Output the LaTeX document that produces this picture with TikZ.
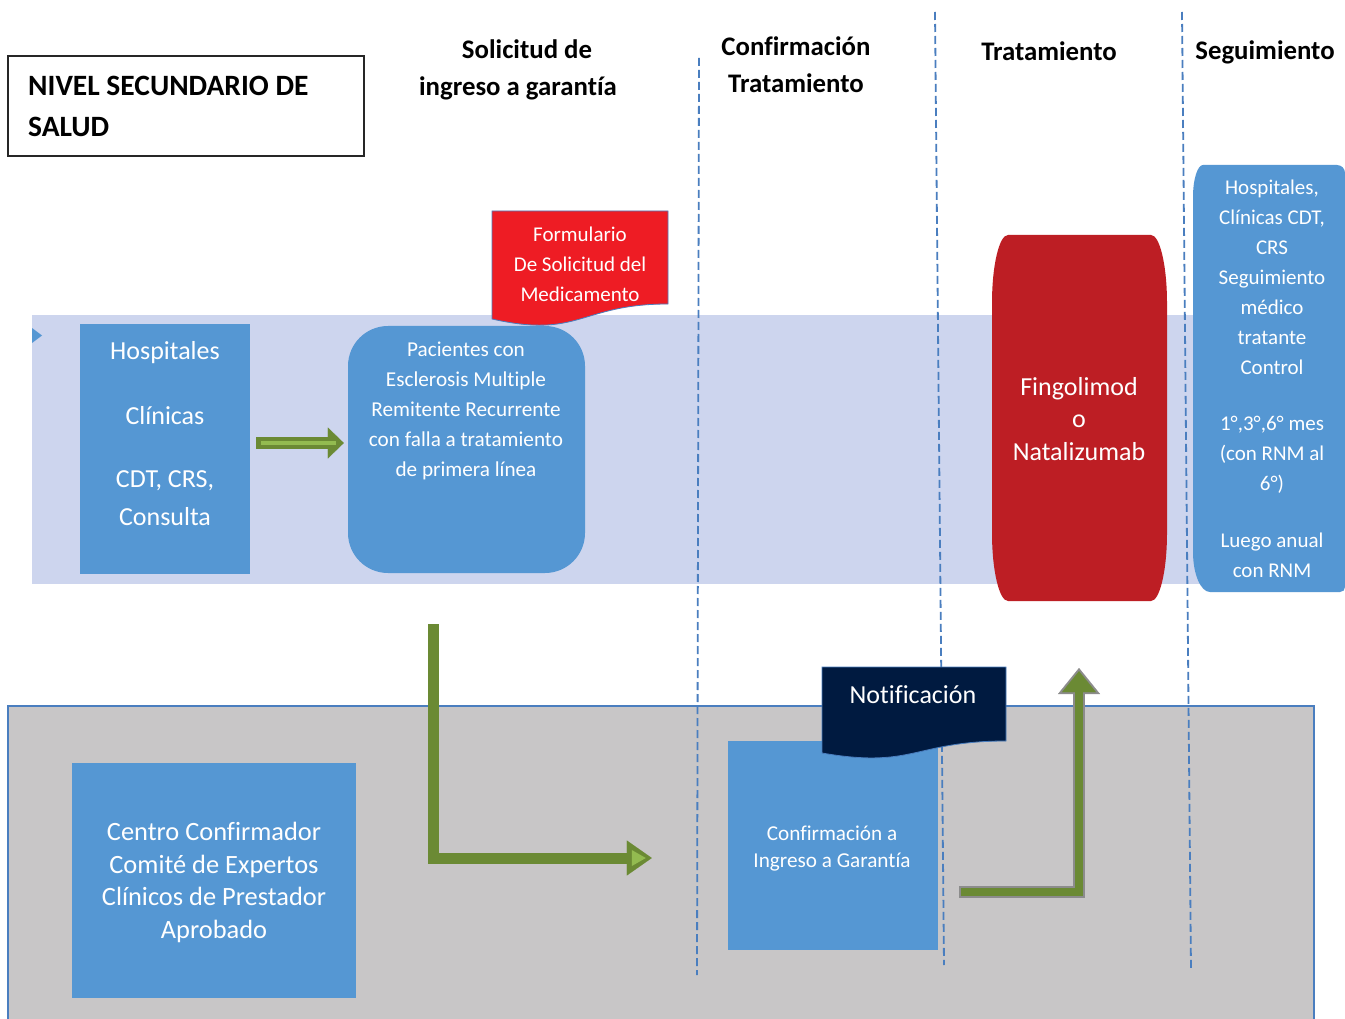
\documentclass[tikz,border=0pt]{standalone}
\usepackage{fontspec}
\setmainfont{Carlito}[Ligatures=NoCommon]
\usetikzlibrary{arrows.meta,calc}
\definecolor{bandblue}{HTML}{CDD5EE}
\definecolor{boxblue}{HTML}{5597D3}
\definecolor{docred}{HTML}{EE1C24}
\definecolor{fingored}{HTML}{BD1E24}
\definecolor{navy}{HTML}{001A40}
\definecolor{greyband}{HTML}{C8C6C7}
\definecolor{borderblue}{HTML}{4A7EBF}
\definecolor{arrowgreen}{HTML}{6B8A34}
\definecolor{lightgreen}{HTML}{93BB50}
\definecolor{arrowgrey}{HTML}{8C8C8C}
\begin{document}
\begin{tikzpicture}[x=1pt,y=-1pt,
  headtxt/.style={font=\bfseries\fontsize{26.8}{37}\selectfont, align=center, inner sep=0pt},
  wtxt/.style={text=white, align=center, inner sep=0pt},
  bluebox/.style={fill=boxblue, draw=none, inner sep=0pt, rectangle},
  dashline/.style={borderblue, line width=1.8pt, dash pattern=on 8pt off 4pt},
  docline/.style={borderblue, line width=0.8pt}]
\useasboundingbox (0,0) rectangle (1345,1019);
\fill[white] (0,0) rectangle (1345,1019);

% backgrounds
\fill[bandblue] (32,315) rectangle (1200,584);
\fill[boxblue] (32,328) -- (42,335.5) -- (32,343) -- cycle;
\draw[borderblue, line width=2pt, fill=greyband] (8,1025) -- (8,706) -- (1314,706) -- (1314,1025);

% dashed column separators
\draw[dashline] (699,58) -- (697,975);
\draw[dashline] (935,12) -- (944,965);
\draw[dashline] (1182,12) -- (1191,970);

% title
\node[draw=black!85, line width=1.3pt, minimum width=356pt, minimum height=100pt, inner sep=0pt] (title) at (186,106) {};
\node[anchor=west, align=left, font=\bfseries\fontsize{29.5}{41}\selectfont, inner sep=0pt] (titleT) at (28,106) {NIVEL SECUNDARIO DE\\SALUD};

% headings
\node[headtxt] (h1) at (518,70) {\hspace*{18pt}Solicitud de\\ingreso a garantía};
\node[headtxt] (h2) at (796,64.5) {Confirmación\\Tratamiento};
\node[headtxt] (h3) at (1049,51) {Tratamiento};
\node[headtxt] (h4) at (1265,52) {Seguimiento};

% Hospitales box
\node[bluebox, minimum width=170pt, minimum height=250pt] (hosp) at (165,449) {};
\node[wtxt, font=\fontsize{26}{38}\selectfont] (hospT) at (165,434) {Hospitales\\[27pt]Clínicas\\[25pt]CDT, CRS,\\Consulta};

% Pacientes box
\node[bluebox, rounded corners=40pt, minimum width=237pt, minimum height=247pt] (pac) at (466.5,449.5) {};
\node[wtxt, font=\fontsize{21.2}{30}\selectfont] (pacT) at (466,411) {Pacientes con\\Esclerosis Multiple\\Remitente Recurrente\\con falla a tratamiento\\de primera línea};

% Formulario document
\draw[docline, fill=docred] (492,211) -- (668,211) -- (668,304) .. controls (580,304) and (580,339) .. (492,319) -- cycle;
\node[wtxt, font=\fontsize{21}{30}\selectfont] (form) at (580,264.5) {Formulario\\De Solicitud del\\Medicamento};

% Fingolimod
\fill[fingored] (1008,235) -- (1151,235) .. controls (1159.8,235) and (1167,265.4) .. (1167,303) -- (1167,533) .. controls (1167,570.6) and (1159.8,601) .. (1151,601) -- (1008,601) .. controls (999.2,601) and (992,570.6) .. (992,533) -- (992,303) .. controls (992,265.4) and (999.2,235) .. (1008,235) -- cycle;
\node[wtxt, font=\fontsize{26}{32.5}\selectfont] (fingo) at (1079,419) {Fingolimod\\o\\Natalizumab};

% Seguimiento box
\fill[boxblue] (1203,165) -- (1337,165) .. controls (1341.4,165) and (1345,168.6) .. (1345,173) -- (1345,587) .. controls (1345,590) and (1343,592) .. (1340,592) -- (1210,592) .. controls (1200.6,592) and (1193,574) .. (1193,552) -- (1193,197) .. controls (1193,179.3) and (1197.5,165) .. (1203,165) -- cycle;
\node[wtxt, font=\fontsize{21}{30}\selectfont] (seg) at (1272,379) {Hospitales,\\Clínicas CDT,\\CRS\\Seguimiento\\médico\\tratante\\Control\\[26pt]1°,3°,6° mes\\(con RNM al\\6°)\\[27pt]Luego anual\\con RNM};

% Centro Confirmador
\node[bluebox, minimum width=284pt, minimum height=235pt] (centro) at (214,880.5) {};
\node[wtxt, font=\fontsize{26.4}{32.5}\selectfont] (centroT) at (214,882.5) {Centro Confirmador\\Comité de Expertos\\Clínicos de Prestador\\Aprobado};

% Confirmacion box
\node[bluebox, minimum width=210pt, minimum height=209pt] (conf) at (833,845.5) {};
\node[wtxt, font=\fontsize{21.2}{27}\selectfont] (confT) at (832,849) {Confirmación a\\Ingreso a Garantía};

% Notificacion document
\draw[docline, fill=navy] (822,667) -- (1006,667) -- (1006,741) .. controls (914,741) and (914,769) .. (822,753) -- cycle;
\node[wtxt, font=\fontsize{26}{32}\selectfont] (notif) at (913,695) {Notificación};

% arrows
\coordinate (a1) at ([xshift=6pt,yshift=6pt]hosp.east);
\coordinate (a2) at ([xshift=-4pt,yshift=6.5pt]pac.west);
\draw[arrowgreen, line width=12pt, -{Triangle[length=16pt,width=31pt,line width=0.1pt]}] (a1) -- (a2);
\draw[lightgreen, line width=3.5pt] ([xshift=5pt]a1) -- ([xshift=-8pt]a2);

\coordinate (l1) at (433,624);
\coordinate (l2) at ([xshift=-76pt]conf.west |- 0,858);
\draw[arrowgreen, line width=11pt, -{Triangle[length=25pt,width=35pt,line width=0.1pt]}] (l1) |- (l2);
\fill[lightgreen] ($(l2)+(-20,-8)$) -- ($(l2)+(-6,0)$) -- ($(l2)+(-20,8)$) -- cycle;

\coordinate (u1) at (959,892);
\coordinate (u2) at (1079,668);
\draw[arrowgrey, line width=12pt, -{Triangle[length=26pt,width=42pt,line width=0.1pt]}] (u1) -| (u2);
\draw[arrowgreen, line width=8pt, shorten >=3.2pt, -{Triangle[length=21pt,width=34pt,line width=0.1pt]}] ([xshift=2pt]u1) -| (u2);
\end{tikzpicture}
\end{document}
